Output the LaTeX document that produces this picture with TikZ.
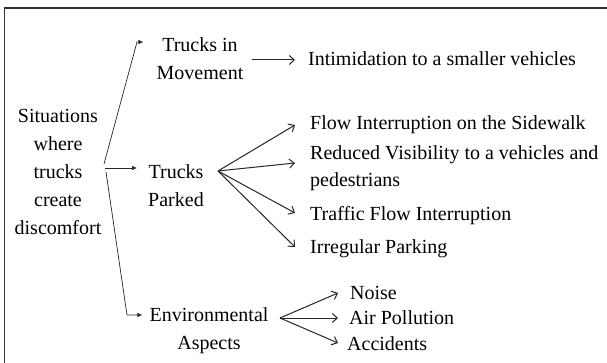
\documentclass[tikz,border=0pt]{standalone}
\usepackage{fontspec}
\setmainfont{Liberation Serif}
\usetikzlibrary{arrows.meta}
\begin{document}
\begin{tikzpicture}[x=1pt,y=-1pt,
  txt/.style={inner sep=0pt, font=\fontsize{20}{28}\selectfont, align=center},
  leaf/.style={inner sep=0pt, font=\fontsize{20}{27}\selectfont, align=left, anchor=west},
  rootarr/.style={line width=0.7pt, black!85, -{Latex[length=5pt,width=4.5pt]}},
  fanarr/.style={line width=1pt, black!85, -{Straight Barb[length=5pt,width=9pt]}}]
\useasboundingbox (0,0) rectangle (607,363);
\draw[line width=1.6pt, black!80] (4.5,363) -- (4.5,8) -- (607,8);

\node[txt] (root) at (58,172) {Situations\\where\\trucks\\create\\discomfort};
\node[txt] (mov) at (200,59) {Trucks in\\Movement};
\node[txt] (park) at (176,186) {Trucks\\Parked};
\node[txt] (env) at (209,331) {Environmental\\Aspects};

\node[leaf] (intim) at (308,59) {Intimidation to a smaller vehicles};
\node[leaf] (flow) at (310,125) {Flow Interruption on the Sidewalk};
\node[leaf] (reduced) at (310,168) {Reduced Visibility to a vehicles and\\pedestrians};
\node[leaf] (traffic) at (310,216) {Traffic Flow Interruption};
\node[leaf] (irreg) at (310,249) {Irregular Parking};
\node[leaf] (noise) at (350,293) {Noise};
\node[leaf] (air) at (349,318) {Air Pollution};
\node[leaf] (acc) at (347,344) {Accidents};

% root connectors
\coordinate (r1) at (104,164);
\coordinate (r2) at (105,168);
\coordinate (r3) at (106,172);
\coordinate (b1) at (137,42);
\coordinate (b3) at (127,315);
\draw[rootarr] (r1) -- (b1) -- ([xshift=-13pt,yshift=17pt]mov.west);
\draw[rootarr] (r2) -- ([xshift=-11pt,yshift=18pt]park.west);
\draw[rootarr] (r3) -- (b3) -- ([xshift=-7pt,yshift=16pt]env.west);

% movement
\coordinate (mo) at (252,60);
\draw[fanarr] (mo) -- ([xshift=-13pt,yshift=-1pt]intim.west);

% parked fan
\coordinate (pk) at (218,171);
\draw[fanarr] (pk) -- ([xshift=-15pt]flow.west);
\draw[fanarr] (pk) -- ([xshift=-15pt,yshift=5pt]reduced.west);
\draw[fanarr] (pk) -- ([xshift=-15pt,yshift=3pt]traffic.west);
\draw[fanarr] (pk) -- ([xshift=-15pt,yshift=2pt]irreg.west);

% environmental fan
\coordinate (ev) at (280,318);
\draw[fanarr] (ev) -- ([xshift=-12pt]noise.west);
\draw[fanarr] (ev) -- ([xshift=-11pt]air.west);
\draw[fanarr] (ev) -- ([xshift=-9pt,yshift=1pt]acc.west);
\end{tikzpicture}
\end{document}
